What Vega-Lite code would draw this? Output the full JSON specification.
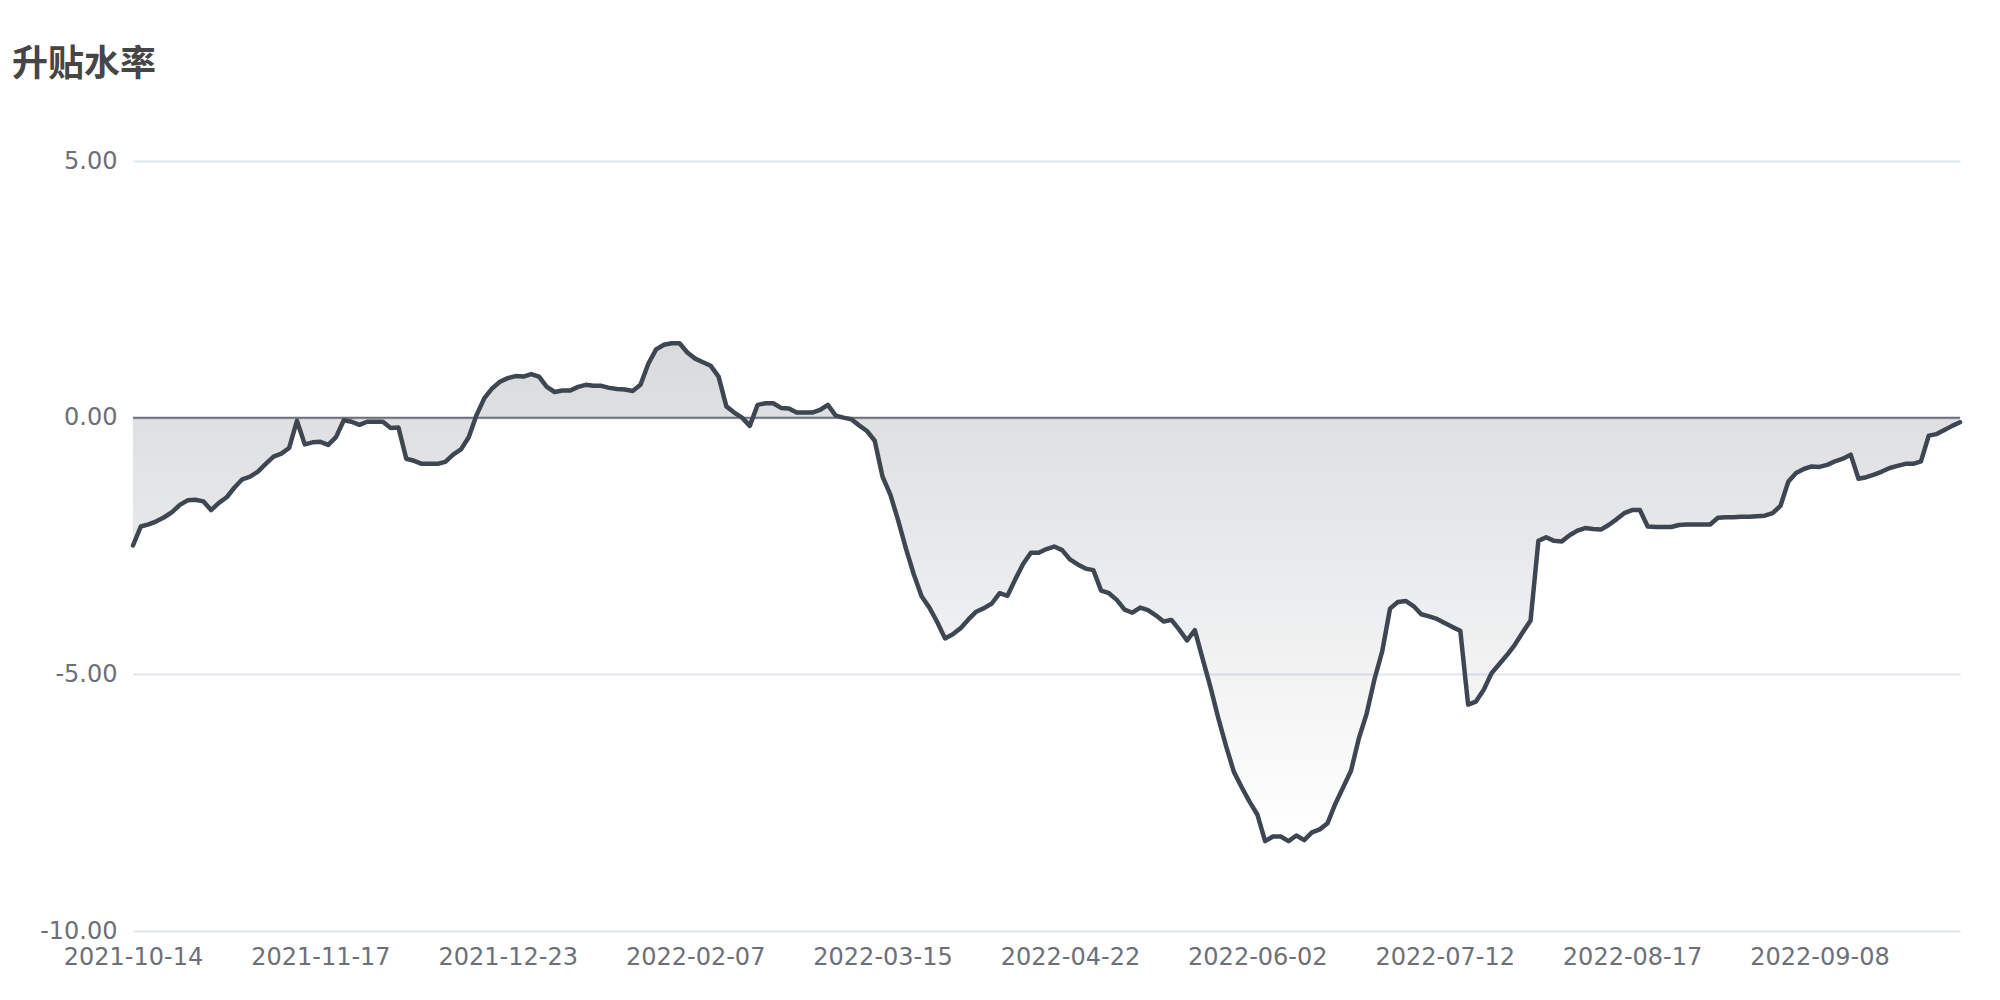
{
  "$schema": "https://vega.github.io/schema/vega-lite/v6.json",
  "width": 1827,
  "height": 770,
  "autosize": {"type": "none"},
  "padding": {"left": 133, "top": 161, "right": 40, "bottom": 69},
  "background": "white",
  "title": {
    "text": "升贴水率",
    "anchor": "start",
    "frame": "group",
    "dx": -121,
    "offset": 37,
    "baseline": "alphabetic",
    "font": "Noto Sans CJK SC",
    "fontSize": 36,
    "fontWeight": "bold",
    "color": "#464646"
  },
  "config": {"view": {"stroke": null}},
  "data": {
    "values": [
      {"i":0,"v":-2.49},{"i":1,"v":-2.12},{"i":2,"v":-2.08},{"i":3,"v":-2.02},{"i":4,"v":-1.94},
      {"i":5,"v":-1.84},{"i":6,"v":-1.70},{"i":7,"v":-1.61},{"i":8,"v":-1.60},{"i":9,"v":-1.63},
      {"i":10,"v":-1.80},{"i":11,"v":-1.66},{"i":12,"v":-1.55},{"i":13,"v":-1.36},{"i":14,"v":-1.20},
      {"i":15,"v":-1.15},{"i":16,"v":-1.05},{"i":17,"v":-0.90},{"i":18,"v":-0.76},{"i":19,"v":-0.70},
      {"i":20,"v":-0.59},{"i":21,"v":-0.06},{"i":22,"v":-0.52},{"i":23,"v":-0.48},{"i":24,"v":-0.47},
      {"i":25,"v":-0.53},{"i":26,"v":-0.38},{"i":27,"v":-0.05},{"i":28,"v":-0.08},{"i":29,"v":-0.14},
      {"i":30,"v":-0.08},{"i":31,"v":-0.08},{"i":32,"v":-0.08},{"i":33,"v":-0.20},{"i":34,"v":-0.19},
      {"i":35,"v":-0.80},{"i":36,"v":-0.84},{"i":37,"v":-0.90},{"i":38,"v":-0.90},{"i":39,"v":-0.90},
      {"i":40,"v":-0.86},{"i":41,"v":-0.72},{"i":42,"v":-0.62},{"i":43,"v":-0.38},{"i":44,"v":0.05},
      {"i":45,"v":0.38},{"i":46,"v":0.57},{"i":47,"v":0.70},{"i":48,"v":0.77},{"i":49,"v":0.81},
      {"i":50,"v":0.80},{"i":51,"v":0.85},{"i":52,"v":0.80},{"i":53,"v":0.60},{"i":54,"v":0.50},
      {"i":55,"v":0.53},{"i":56,"v":0.53},{"i":57,"v":0.60},{"i":58,"v":0.64},{"i":59,"v":0.62},
      {"i":60,"v":0.62},{"i":61,"v":0.58},{"i":62,"v":0.56},{"i":63,"v":0.55},{"i":64,"v":0.52},
      {"i":65,"v":0.64},{"i":66,"v":1.05},{"i":67,"v":1.33},{"i":68,"v":1.42},{"i":69,"v":1.45},
      {"i":70,"v":1.45},{"i":71,"v":1.27},{"i":72,"v":1.15},{"i":73,"v":1.08},{"i":74,"v":1.01},
      {"i":75,"v":0.80},{"i":76,"v":0.22},{"i":77,"v":0.10},{"i":78,"v":0.00},{"i":79,"v":-0.16},
      {"i":80,"v":0.25},{"i":81,"v":0.28},{"i":82,"v":0.28},{"i":83,"v":0.19},{"i":84,"v":0.18},
      {"i":85,"v":0.10},{"i":86,"v":0.10},{"i":87,"v":0.10},{"i":88,"v":0.15},{"i":89,"v":0.25},
      {"i":90,"v":0.04},{"i":91,"v":0.00},{"i":92,"v":-0.03},{"i":93,"v":-0.15},{"i":94,"v":-0.26},
      {"i":95,"v":-0.45},{"i":96,"v":-1.15},{"i":97,"v":-1.50},{"i":98,"v":-2.00},{"i":99,"v":-2.55},
      {"i":100,"v":-3.05},{"i":101,"v":-3.48},{"i":102,"v":-3.70},{"i":103,"v":-3.98},{"i":104,"v":-4.30},
      {"i":105,"v":-4.22},{"i":106,"v":-4.10},{"i":107,"v":-3.93},{"i":108,"v":-3.78},{"i":109,"v":-3.71},
      {"i":110,"v":-3.62},{"i":111,"v":-3.42},{"i":112,"v":-3.47},{"i":113,"v":-3.15},{"i":114,"v":-2.85},
      {"i":115,"v":-2.63},{"i":116,"v":-2.63},{"i":117,"v":-2.56},{"i":118,"v":-2.51},{"i":119,"v":-2.58},
      {"i":120,"v":-2.76},{"i":121,"v":-2.86},{"i":122,"v":-2.94},{"i":123,"v":-2.97},{"i":124,"v":-3.37},
      {"i":125,"v":-3.42},{"i":126,"v":-3.55},{"i":127,"v":-3.74},{"i":128,"v":-3.80},{"i":129,"v":-3.70},
      {"i":130,"v":-3.75},{"i":131,"v":-3.85},{"i":132,"v":-3.97},{"i":133,"v":-3.94},{"i":134,"v":-4.13},
      {"i":135,"v":-4.34},{"i":136,"v":-4.14},{"i":137,"v":-4.70},{"i":138,"v":-5.25},{"i":139,"v":-5.85},
      {"i":140,"v":-6.40},{"i":141,"v":-6.90},{"i":142,"v":-7.20},{"i":143,"v":-7.48},{"i":144,"v":-7.73},
      {"i":145,"v":-8.25},{"i":146,"v":-8.16},{"i":147,"v":-8.16},{"i":148,"v":-8.25},{"i":149,"v":-8.14},
      {"i":150,"v":-8.23},{"i":151,"v":-8.08},{"i":152,"v":-8.02},{"i":153,"v":-7.90},{"i":154,"v":-7.52},
      {"i":155,"v":-7.20},{"i":156,"v":-6.88},{"i":157,"v":-6.25},{"i":158,"v":-5.77},{"i":159,"v":-5.10},
      {"i":160,"v":-4.55},{"i":161,"v":-3.72},{"i":162,"v":-3.59},{"i":163,"v":-3.57},{"i":164,"v":-3.67},
      {"i":165,"v":-3.83},{"i":166,"v":-3.87},{"i":167,"v":-3.92},{"i":168,"v":-4.00},{"i":169,"v":-4.08},
      {"i":170,"v":-4.15},{"i":171,"v":-5.59},{"i":172,"v":-5.53},{"i":173,"v":-5.30},{"i":174,"v":-4.98},
      {"i":175,"v":-4.80},{"i":176,"v":-4.62},{"i":177,"v":-4.42},{"i":178,"v":-4.18},{"i":179,"v":-3.95},
      {"i":180,"v":-2.40},{"i":181,"v":-2.33},{"i":182,"v":-2.40},{"i":183,"v":-2.41},{"i":184,"v":-2.29},
      {"i":185,"v":-2.20},{"i":186,"v":-2.15},{"i":187,"v":-2.17},{"i":188,"v":-2.18},{"i":189,"v":-2.09},
      {"i":190,"v":-1.98},{"i":191,"v":-1.86},{"i":192,"v":-1.80},{"i":193,"v":-1.80},{"i":194,"v":-2.12},
      {"i":195,"v":-2.13},{"i":196,"v":-2.13},{"i":197,"v":-2.13},{"i":198,"v":-2.09},{"i":199,"v":-2.08},
      {"i":200,"v":-2.08},{"i":201,"v":-2.08},{"i":202,"v":-2.08},{"i":203,"v":-1.95},{"i":204,"v":-1.94},
      {"i":205,"v":-1.94},{"i":206,"v":-1.93},{"i":207,"v":-1.93},{"i":208,"v":-1.92},{"i":209,"v":-1.91},
      {"i":210,"v":-1.86},{"i":211,"v":-1.72},{"i":212,"v":-1.25},{"i":213,"v":-1.08},{"i":214,"v":-1.00},
      {"i":215,"v":-0.95},{"i":216,"v":-0.96},{"i":217,"v":-0.92},{"i":218,"v":-0.85},{"i":219,"v":-0.80},
      {"i":220,"v":-0.72},{"i":221,"v":-1.19},{"i":222,"v":-1.16},{"i":223,"v":-1.11},{"i":224,"v":-1.05},
      {"i":225,"v":-0.98},{"i":226,"v":-0.94},{"i":227,"v":-0.90},{"i":228,"v":-0.90},{"i":229,"v":-0.85},
      {"i":230,"v":-0.35},{"i":231,"v":-0.32},{"i":232,"v":-0.24},{"i":233,"v":-0.16},{"i":234,"v":-0.09}
    ]
  },
  "layer": [
    {
      "mark": {
        "type": "area",
        "color": {
          "gradient": "linear",
          "x1": 0, "y1": 0, "x2": 0, "y2": 1,
          "stops": [
            {"offset": 0, "color": "rgba(61,70,81,0.2)"},
            {"offset": 1, "color": "rgba(61,70,81,0)"}
          ]
        }
      },
      "encoding": {
        "x": {
          "field": "i", "type": "quantitative",
          "scale": {"domain": [0, 234], "nice": false, "zero": false},
          "axis": {
            "title": null,
            "values": [0, 24, 48, 72, 96, 120, 144, 168, 192, 216],
            "labelExpr": "['2021-10-14','2021-11-17','2021-12-23','2022-02-07','2022-03-15','2022-04-22','2022-06-02','2022-07-12','2022-08-17','2022-09-08'][round(datum.value / 24)]",
            "domain": false, "ticks": false, "grid": false,
            "labelFont": "DejaVu Sans", "labelFontSize": 24, "labelColor": "#6E7079",
            "labelPadding": 14, "labelFlush": false, "labelOverlap": false
          }
        },
        "y": {
          "field": "v", "type": "quantitative",
          "scale": {"domain": [-10, 5], "nice": false, "zero": false},
          "axis": {
            "title": null,
            "values": [5, 0, -5, -10],
            "labelExpr": "replace(format(datum.value, '.2f'), '\u2212', '-')",
            "domain": false, "ticks": false,
            "gridColor": "#E0E6F1", "gridWidth": 2,
            "labelFont": "DejaVu Sans", "labelFontSize": 24, "labelColor": "#6E7079",
            "labelPadding": 16
          }
        },
        "y2": {"datum": 0}
      }
    },
    {
      "data": {"values": [{"zero": 0}]},
      "mark": {"type": "rule", "color": "#6E7079", "strokeWidth": 2},
      "encoding": {
        "y": {"field": "zero", "type": "quantitative"}
      }
    },
    {
      "mark": {"type": "line", "color": "#3D4651", "strokeWidth": 4.5, "strokeJoin": "round", "strokeCap": "round"},
      "encoding": {
        "x": {"field": "i", "type": "quantitative"},
        "y": {"field": "v", "type": "quantitative"}
      }
    }
  ]
}
